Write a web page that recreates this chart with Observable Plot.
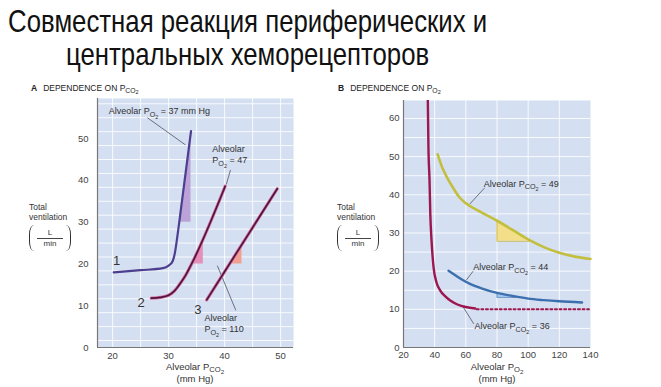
<!DOCTYPE html>
<html><head><meta charset="utf-8">
<script src="https://cdn.jsdelivr.net/npm/d3@7"></script>
<script src="https://cdn.jsdelivr.net/npm/@observablehq/plot@0.6"></script>
<style>
body{margin:0;background:#fff;width:661px;height:387px;overflow:hidden;position:relative;font-family:"Liberation Sans",Arial,sans-serif;color:#333;}
.abs{position:absolute;}
#title{left:-252px;top:5px;width:1000px;text-align:center;font-size:32px;line-height:33px;color:#111;}
#title span{display:inline-block;white-space:nowrap;transform-origin:center;}
.head{font-size:8.5px;color:#222;white-space:nowrap;}
.head b{font-weight:bold;margin-right:6px;}
sub{font-size:0.8em;vertical-align:-0.25em;line-height:0;}
.xl{font-size:9.5px;text-align:center;width:120px;line-height:12px;color:#333;}
.yl{font-size:8.5px;line-height:10px;color:#333;}
.frac{display:flex;align-items:center;margin-top:3px;}
.pl,.pr{width:5px;height:26px;box-sizing:border-box;}
.pl{border-left:1.4px solid #333;border-radius:7px 0 0 7px / 13px 0 0 13px;}
.pr{border-right:1.4px solid #333;border-radius:0 7px 7px 0 / 0 13px 13px 0;}
.fr{display:flex;flex-direction:column;align-items:center;width:26px;margin:0 3px;font-size:8px;line-height:8px;}
.bar{width:26px;border-top:1px solid #444;margin:1px 0;}
</style></head><body>
<div id="title" class="abs"><span id="t1">Совместная реакция периферических и</span><br><span id="t2">центральных хеморецепторов</span></div>

<div class="abs head" style="left:31px;top:83px"><b>A</b>DEPENDENCE ON P<sub>CO<sub>2</sub></sub></div>
<div class="abs head" style="left:338px;top:83px"><b>B</b>DEPENDENCE ON P<sub>O<sub>2</sub></sub></div>

<div id="A" class="abs" style="left:0;top:80px"></div>
<div id="B" class="abs" style="left:330px;top:80px"></div>

<div class="abs yl" style="left:29px;top:202px">Total<br>ventilation
 <div class="frac"><div class="pl"></div><span class="fr"><span>L</span><span class="bar"></span><span>min</span></span><div class="pr"></div></div></div>
<div class="abs yl" style="left:337px;top:202px">Total<br>ventilation
 <div class="frac"><div class="pl"></div><span class="fr"><span>L</span><span class="bar"></span><span>min</span></span><div class="pr"></div></div></div>

<div class="abs xl" style="left:135px;top:361px">Alveolar P<sub>CO<sub>2</sub></sub><br>(mm Hg)</div>
<div class="abs xl" style="left:437px;top:361px">Alveolar P<sub>O<sub>2</sub></sub><br>(mm Hg)</div>

<script>
// ---------- Panel A data (ventilation vs alveolar PCO2) ----------
const curve1X = [20.2, 25, 29, 30, 30.7, 31.1, 31.5, 31.9, 34];
const curve1Y = [18, 18.5, 19, 19.6, 20.6, 22.5, 26, 30, 51.8];
const curve2X = [26.9, 28.5, 30, 31, 32, 33, 34.1, 40.1];
const curve2Y = [11.8, 12, 12.5, 13.5, 15.2, 17.2, 20, 38.6];
const curve3X = [36.8, 49.4];
const curve3Y = [11.4, 38];
const tri1X = [31.9, 34], tri1Top = [30, 51.8], tri1Base = 30;
const tri2X = [34.1, 36.2], tri2Top = [20, 26.4], tri2Base = 20;
const tri3X = [40.9, 43.1], tri3Top = [20, 24.6], tri3Base = 20;
const ticksAX = [20, 30, 40, 50];
const ticksAY = [0, 10, 20, 30, 40, 50];
const numLabels = ["1", "2", "3"];
const numLabelX = [20.7, 25.1, 35.2];
const numLabelY = [20.8, 10.8, 9.0];
const annA = ["Alveolar P_{O}~{2} = 37 mm Hg", "Alveolar\nP_{O}~{2} = 47", "Alveolar\nP_{O}~{2} = 110"];
const annAX = [19.3, 37.8, 36.4];
const annAY = [56.7, 46.4, 5.9];
const leadA = [[26.2, 55.0, 33.0, 48.5], [41.05, 42.5, 40.3, 39.0], [38.7, 19.6, 42.0, 8.9]];

// ---------- Panel B data (ventilation vs alveolar PO2) ----------
const co36X = [35.6, 36, 36.7, 37.2, 38, 39.3, 41, 43.6, 47, 50, 55, 60, 66];
const co36Y = [65, 52.5, 43.8, 35, 28, 21, 17.3, 14.9, 13.3, 12.3, 11.2, 10.6, 10.2];
const co36DotX = [67, 139];
const co36DotY = [10, 10];
const co49X = [41.9, 45, 48, 52, 56, 60, 65, 70, 80, 90, 100, 110, 120, 130, 140];
const co49Y = [50.6, 47, 44.5, 41.7, 39.3, 37.8, 36.5, 35.4, 33.2, 30.8, 28.3, 26.3, 24.8, 23.8, 23.2];
const co44X = [48.9, 53, 58, 63, 70, 80, 90, 100, 110, 120, 134.6];
const co44Y = [20.1, 19, 17.7, 16.6, 15.5, 14.3, 13.5, 12.8, 12.4, 12.1, 11.8];
const triYX = [80, 90, 100, 102], triYTop = [33.2, 30.8, 28.3, 27.8], triYBase = 27.8;
const triBX = [80, 90, 97], triBTop = [14.3, 13.5, 13.1], triBBase = 13.1;
const ticksBX = [20, 40, 60, 80, 100, 120, 140];
const ticksBY = [0, 10, 20, 30, 40, 50, 60];
const annB = ["Alveolar P_{CO}~{2} = 49", "Alveolar P_{CO}~{2} = 44", "Alveolar P_{CO}~{2} = 36"];
const annBX = [71.5, 64.7, 65.6];
const annBY = [42.9, 21.0, 5.5];
const leadB = [[72.0, 41.8, 62.6, 37.6], [64.7, 20.0, 60.4, 17.7], [65.1, 6.2, 58.3, 10.6]];

const BG = "#d4dff1";
const zip = (xs, ys) => xs.map((x, i) => ({x, y: ys[i]}));
const tri = (xs, tops, base) => xs.map((x, i) => ({x, y1: base, y2: tops[i]}));
const links = arr => arr.map(([x1, y1, x2, y2]) => ({x1, y1, x2, y2}));
const labels = (t, xs, ys) => t.map((s, i) => ({s, x: xs[i], y: ys[i]}));
const style = {fontFamily: "'Liberation Sans', Arial, sans-serif", fontSize: "9px", color: "#333", background: "transparent", overflow: "visible"};

function subify(svg) {
  const ns = "http://www.w3.org/2000/svg";
  svg.querySelectorAll("text, tspan").forEach(el => {
    if (el.children.length) return;
    const s = el.textContent;
    if (!/[_~]\{/.test(s)) return;
    el.textContent = "";
    let cur = 0;
    const parts = s.split(/([_~]\{[^}]*\})/).filter(p => p);
    for (const p of parts) {
      const t = document.createElementNS(ns, "tspan");
      let shift = 0, txt = p, size = null;
      if (p.startsWith("_{")) { shift = 2.5; txt = p.slice(2, -1); size = "0.8em"; }
      else if (p.startsWith("~{")) { shift = 4.5; txt = p.slice(2, -1); size = "0.6em"; }
      if (shift !== cur) t.setAttribute("dy", shift - cur);
      cur = shift;
      if (size) t.setAttribute("font-size", size);
      t.textContent = txt;
      el.appendChild(t);
    }
  });
}

const xDomA = [17.3, 52.3];
const plotA = Plot.plot({
  width: 330, height: 307, marginLeft: 97, marginRight: 37, marginTop: 18, marginBottom: 40,
  x: {domain: xDomA}, y: {domain: [0, 59.6]},
  style,
  marks: [
    Plot.frame({fill: BG, stroke: null}),
    Plot.gridX([20, 25, 30, 35, 40, 45, 50], {stroke: "#fff", strokeOpacity: 0.85, strokeWidth: 1}),
    Plot.gridY(d3.range(5/3, 59.6, 10/3), {stroke: "#fff", strokeOpacity: 0.85, strokeWidth: 1}),
    Plot.areaY(tri(tri1X, tri1Top, tri1Base), {x: "x", y1: "y1", y2: "y2", fill: "#bba3d8"}),
    Plot.areaY(tri(tri2X, tri2Top, tri2Base), {x: "x", y1: "y1", y2: "y2", fill: "#e590bb"}),
    Plot.areaY(tri(tri3X, tri3Top, tri3Base), {x: "x", y1: "y1", y2: "y2", fill: "#f0a092"}),
    Plot.link(links(leadA), {x1: "x1", y1: "y1", x2: "x2", y2: "y2", stroke: "#6a7282", strokeWidth: 1}),
    Plot.line(zip(curve1X, curve1Y), {x: "x", y: "y", stroke: "#4d3f8f", strokeWidth: 2.2, curve: "monotone-x"}),
    Plot.line(zip(curve2X, curve2Y), {x: "x", y: "y", stroke: "#d9729f", strokeWidth: 3.2, curve: "monotone-x"}),
    Plot.line(zip(curve2X, curve2Y), {x: "x", y: "y", stroke: "#4f143f", strokeWidth: 1.7, curve: "monotone-x"}),
    Plot.line(zip(curve3X, curve3Y), {x: "x", y: "y", stroke: "#d9729f", strokeWidth: 3.2}),
    Plot.line(zip(curve3X, curve3Y), {x: "x", y: "y", stroke: "#4f143f", strokeWidth: 1.7}),
    Plot.text(labels(annA, annAX, annAY), {x: "x", y: "y", text: "s", textAnchor: "start", fontSize: 9, lineHeight: 1.3, fill: "#333"}),
    Plot.text(labels(numLabels, numLabelX, numLabelY), {x: "x", y: "y", text: "s", fontSize: 13, fill: "#333"}),
    Plot.ruleX([xDomA[0]], {stroke: "#777", strokeWidth: 1.2}),
    Plot.ruleY([0], {stroke: "#777", strokeWidth: 1.2}),
    Plot.axisX(ticksAX, {tickSize: 0, tickPadding: 5, label: null, fontSize: 9.5, fill: "#444"}),
    Plot.axisY(ticksAY, {tickSize: 0, tickPadding: 9, label: null, fontSize: 9.5, fill: "#444"})
  ]
});
subify(plotA);
document.getElementById("A").append(plotA);

const plotB = Plot.plot({
  width: 331, height: 307, marginLeft: 73, marginRight: 71, marginTop: 20, marginBottom: 40,
  x: {domain: [20, 140]}, y: {domain: [0, 64.7]},
  style,
  marks: [
    Plot.frame({fill: BG, stroke: null}),
    Plot.gridX([40, 60, 80, 100, 120], {stroke: "#fff", strokeOpacity: 0.85, strokeWidth: 1}),
    Plot.gridY(d3.range(5, 64.7, 5), {stroke: "#fff", strokeOpacity: 0.85, strokeWidth: 1}),
    Plot.areaY(tri(triYX, triYTop, triYBase), {x: "x", y1: "y1", y2: "y2", fill: "#f3df8a", curve: "monotone-x"}),
    Plot.areaY(tri(triBX, triBTop, triBBase), {x: "x", y1: "y1", y2: "y2", fill: "#a3c6ec", curve: "monotone-x"}),
    Plot.ruleX([80], {y1: triYBase, y2: 33.2, stroke: "#c9b850", strokeWidth: 0.8}),
    Plot.ruleY([triYBase], {x1: 80, x2: 102, stroke: "#c9b850", strokeWidth: 0.8}),
    Plot.ruleX([80], {y1: triBBase, y2: 14.3, stroke: "#5d8cc4", strokeWidth: 0.8}),
    Plot.ruleY([triBBase], {x1: 80, x2: 97, stroke: "#5d8cc4", strokeWidth: 0.8}),
    Plot.link(links(leadB), {x1: "x1", y1: "y1", x2: "x2", y2: "y2", stroke: "#6a7282", strokeWidth: 1}),
    Plot.line(zip(co49X, co49Y), {x: "x", y: "y", stroke: "#c3bf3e", strokeWidth: 2.6, curve: "monotone-x"}),
    Plot.line(zip(co44X, co44Y), {x: "x", y: "y", stroke: "#3b6fae", strokeWidth: 2.4, curve: "monotone-x"}),
    Plot.line(zip(co36X, co36Y), {x: "x", y: "y", stroke: "#9c1650", strokeWidth: 2.4, curve: "monotone-x", clip: true}),
    Plot.line(zip(co36DotX, co36DotY), {x: "x", y: "y", stroke: "#9c1650", strokeWidth: 2, strokeDasharray: "2,2.6"}),
    Plot.text(labels(annB, annBX, annBY), {x: "x", y: "y", text: "s", textAnchor: "start", fontSize: 9, fill: "#333"}),
    Plot.ruleX([20], {stroke: "#777", strokeWidth: 1.2}),
    Plot.ruleY([0], {stroke: "#777", strokeWidth: 1.2}),
    Plot.axisX(ticksBX, {tickSize: 0, tickPadding: 4, label: null, fontSize: 9.5, fill: "#444"}),
    Plot.axisY(ticksBY, {tickSize: 0, tickPadding: 4, label: null, fontSize: 9.5, fill: "#444"})
  ]
});
subify(plotB);
document.getElementById("B").append(plotB);

// fit title width to the reference's condensed look
const t1 = document.getElementById("t1"), t2 = document.getElementById("t2");
const k = 479 / t1.getBoundingClientRect().width;
t1.style.transform = `scaleX(${k})`;
t2.style.transform = `scaleX(${k})`;
</script>
</body></html>
